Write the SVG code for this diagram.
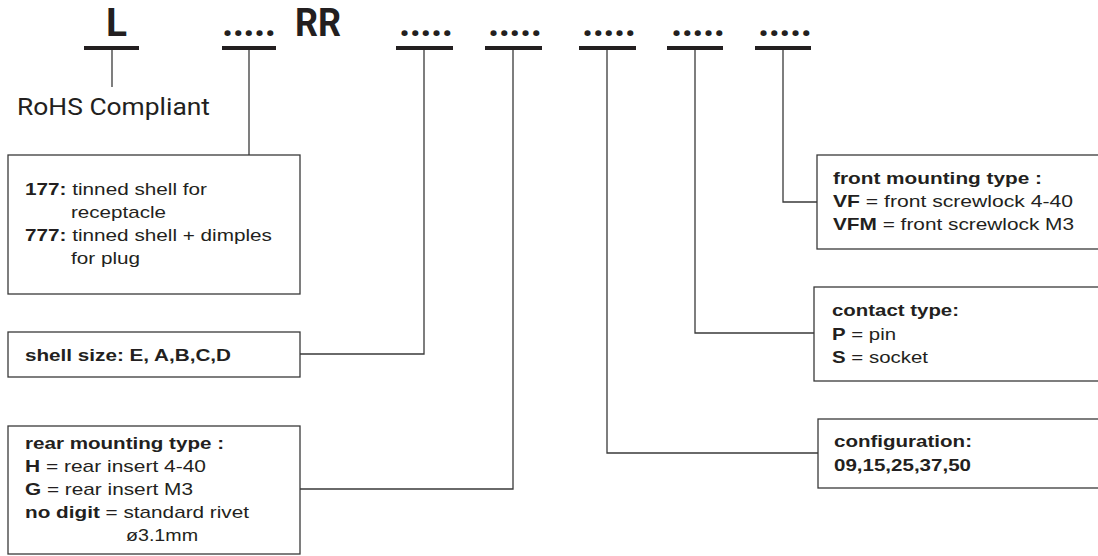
<svg xmlns="http://www.w3.org/2000/svg" width="1098" height="556" viewBox="0 0 1098 556">
<style>
.box{fill:#fff;stroke:#3a3a3a;stroke-width:1.3}
.con{fill:none;stroke:#3a3a3a;stroke-width:1.3}
.ul{fill:#231f20}
.big{font-family:Roboto,"Liberation Sans",sans-serif;font-weight:700;font-size:39px;fill:#231f20}
.t{font-family:"Liberation Sans",Arial,sans-serif;font-size:17px;fill:#231f20}
.b{font-weight:700}
</style>
<rect width="1098" height="556" fill="#fff"/>
<g id="code">
<text class="big" x="106" y="36" textLength="21" lengthAdjust="spacingAndGlyphs">L</text>
<text class="big" x="222" y="36" textLength="54" lengthAdjust="spacing">.....</text>
<text class="big" x="295" y="36" textLength="46" lengthAdjust="spacingAndGlyphs">RR</text>
<text class="big" x="399" y="36" textLength="54" lengthAdjust="spacing">.....</text>
<text class="big" x="488" y="36" textLength="54" lengthAdjust="spacing">.....</text>
<text class="big" x="582" y="36" textLength="54" lengthAdjust="spacing">.....</text>
<text class="big" x="671" y="36" textLength="54" lengthAdjust="spacing">.....</text>
<text class="big" x="758" y="36" textLength="54" lengthAdjust="spacing">.....</text>
<rect class="ul" x="84" y="46" width="55" height="4"/>
<rect class="ul" x="222" y="46" width="54" height="4"/>
<rect class="ul" x="396" y="46" width="57" height="4"/>
<rect class="ul" x="485" y="46" width="57" height="4"/>
<rect class="ul" x="579" y="46" width="57" height="4"/>
<rect class="ul" x="667" y="46" width="56" height="4"/>
<rect class="ul" x="755" y="46" width="56" height="4"/>
</g>
<g id="connectors">
<path class="con" d="M112,50V87" stroke="#666"/>
<path class="con" d="M249,50V155"/>
<path class="con" d="M424,50V354H300"/>
<path class="con" d="M513,50V489H300"/>
<path class="con" d="M607,50V453H818"/>
<path class="con" d="M695,50V333H814"/>
<path class="con" d="M783,50V202H817"/>
</g>
<g id="rohs">
<text x="17" y="115" font-family="Roboto,'Liberation Sans',sans-serif" font-size="24" fill="#231f20" textLength="193" lengthAdjust="spacingAndGlyphs">RoHS Compliant</text>
</g>
<g id="shell-finish">
<rect class="box" x="8" y="155" width="292" height="139"/>
<text class="t" x="25" y="195" textLength="182" lengthAdjust="spacingAndGlyphs"><tspan class="b">177:</tspan> tinned shell for</text>
<text class="t" x="71" y="218" textLength="95" lengthAdjust="spacingAndGlyphs">receptacle</text>
<text class="t" x="25" y="241" textLength="247" lengthAdjust="spacingAndGlyphs"><tspan class="b">777:</tspan> tinned shell + dimples</text>
<text class="t" x="71" y="264" textLength="69" lengthAdjust="spacingAndGlyphs">for plug</text>
</g>
<g id="shell-size">
<rect class="box" x="8" y="332" width="292" height="45"/>
<text class="t b" x="25" y="361" textLength="206" lengthAdjust="spacingAndGlyphs">shell size: E, A,B,C,D</text>
</g>
<g id="rear-mounting">
<rect class="box" x="8" y="426" width="292" height="128"/>
<text class="t b" x="25" y="449" textLength="199" lengthAdjust="spacingAndGlyphs">rear mounting type :</text>
<text class="t" x="25" y="472" textLength="181" lengthAdjust="spacingAndGlyphs"><tspan class="b">H</tspan> = rear insert 4-40</text>
<text class="t" x="25" y="495" textLength="168" lengthAdjust="spacingAndGlyphs"><tspan class="b">G</tspan> = rear insert M3</text>
<text class="t" x="25" y="518" textLength="224" lengthAdjust="spacingAndGlyphs"><tspan class="b">no digit</tspan> = standard rivet</text>
<text class="t" x="126" y="541" textLength="72" lengthAdjust="spacingAndGlyphs">ø3.1mm</text>
</g>
<g id="front-mounting">
<rect class="box" x="817" y="155" width="300" height="94"/>
<text class="t b" x="833" y="184" textLength="209" lengthAdjust="spacingAndGlyphs">front mounting type :</text>
<text class="t" x="833" y="207" textLength="240" lengthAdjust="spacingAndGlyphs"><tspan class="b">VF</tspan> = front screwlock 4-40</text>
<text class="t" x="833" y="230" textLength="241" lengthAdjust="spacingAndGlyphs"><tspan class="b">VFM</tspan> = front screwlock M3</text>
</g>
<g id="contact-type">
<rect class="box" x="814" y="287" width="300" height="94"/>
<text class="t b" x="832" y="316" textLength="127" lengthAdjust="spacingAndGlyphs">contact type:</text>
<text class="t" x="832" y="339.5" textLength="64" lengthAdjust="spacingAndGlyphs"><tspan class="b">P</tspan> = pin</text>
<text class="t" x="832" y="363" textLength="96" lengthAdjust="spacingAndGlyphs"><tspan class="b">S</tspan> = socket</text>
</g>
<g id="configuration">
<rect class="box" x="818" y="419" width="300" height="69"/>
<text class="t b" x="834" y="447" textLength="138" lengthAdjust="spacingAndGlyphs">configuration:</text>
<text class="t b" x="834" y="471" textLength="137" lengthAdjust="spacingAndGlyphs">09,15,25,37,50</text>
</g>
</svg>
